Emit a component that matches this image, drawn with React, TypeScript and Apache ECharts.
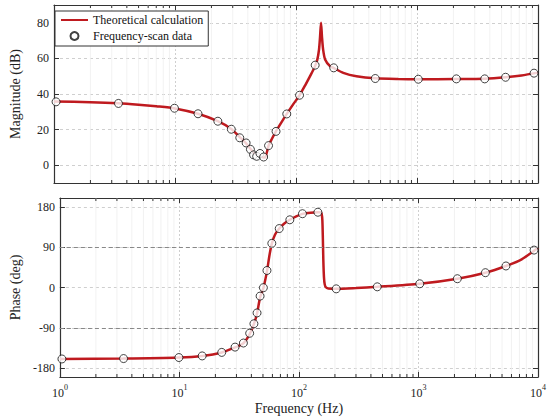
import React, { useEffect, useRef } from "react";
import * as echarts from "echarts";

const FONT = "'Liberation Serif', 'Times New Roman', serif";

// Frequency-scan data (Hz)
const scanFreq = [1.04, 3.41, 9.9, 15.5, 22.6, 29.2, 34.3, 38.7, 42, 44.6, 47.3, 50.4, 54, 59.3, 68.4, 83.9, 107, 144, 205, 452, 1025, 2115, 3630, 5395, 9270];
const scanMag = [35.6, 34.7, 32.0, 28.9, 24.7, 20.2, 15.4, 12.5, 8.9, 5.8, 5.0, 6.6, 4.6, 11.0, 19.0, 28.8, 39.3, 56.2, 54.7, 48.7, 48.3, 48.5, 48.5, 49.4, 51.7];
const scanPhase = [-159.7, -158.8, -156.5, -152.9, -145.0, -133.2, -124.1, -102.3, -81.0, -56.8, -19.2, -0.4, 38.0, 98.7, 131.7, 151.3, 164.9, 168.2, -3.0, 1.5, 8.3, 19.6, 33.1, 48.1, 83.6];

// Theoretical calculation curves [Hz, value]
const magCurve = [
  [1, 35.8], [2, 35.4], [3.4, 34.8], [5, 34.0], [7, 33.1], [10, 31.9], [15.5, 28.9], [22.6, 24.7],
  [29.2, 20.3], [34.3, 15.8], [38.7, 12.3], [42, 9.2], [45, 6.8], [48, 5.6], [51, 5.0], [53.5, 4.4],
  [55.5, 4.3], [57.3, 7.0], [59.3, 10.9], [63, 14.6], [68.4, 19.1], [76, 24.2], [83.9, 28.8], [95, 34.3],
  [107, 39.3], [120, 45.3], [133, 51.0], [144, 55.8], [150, 59.3], [155, 65.0], [158, 72.0], [161, 80.0],
  [164, 72.0], [167.5, 65.0], [174, 59.4], [191, 55.6], [205, 54.6], [246, 51.9], [316, 50.0], [452, 48.8],
  [700, 48.4], [1025, 48.3], [2115, 48.4], [3630, 48.6], [5395, 49.4], [7300, 50.4], [10000, 52.0]
];
const phaseCurve = [
  [1, -159.6], [3.4, -158.8], [10, -156.5], [15.5, -153.0], [22.6, -145.3], [29.2, -134.0], [34.3, -124.5],
  [38.7, -104.0], [42, -81.5], [44.6, -58.0], [47.3, -22.0], [50.4, -1.0], [54, 36.0], [56.5, 70.0],
  [59.3, 98.0], [63, 118.0], [68.4, 131.7], [75, 142.5], [83.9, 151.3], [95, 159.0], [107, 164.6],
  [125, 167.3], [144, 168.2], [152, 167.8], [155, 164.5], [157, 150.0], [158.5, 110.0], [160, 60.0],
  [162, 22.0], [164.3, 7.0], [168, 0.5], [176, -2.0], [205, -3.0], [300, -1.2], [452, 1.5], [1025, 8.3],
  [2115, 19.6], [3630, 33.1], [5395, 48.1], [7300, 63.0], [10000, 89.0]
];

const magTicks = [0, 20, 40, 60, 80];
const phaseTicks = [-180, -90, 0, 90, 180];
const phaseRefLines = [-90, 90];
const minorFreqs = [
  2, 3, 4, 5, 6, 7, 8, 9,
  20, 30, 40, 50, 60, 70, 80, 90,
  200, 300, 400, 500, 600, 700, 800, 900,
  2000, 3000, 4000, 5000, 6000, 7000, 8000, 9000
];

const LINE_COLOR = "#bf1a1f";
const AXIS_COLOR = "#333";

function App() {
  const ref = useRef<HTMLDivElement>(null);
  useEffect(() => {
    document.body.style.margin = "0";
    if (!ref.current) return;
    const chart = echarts.init(ref.current, undefined, { renderer: "svg" });

    const minorSeries = (gi: number) => ({
      type: "custom",
      name: "minor" + gi,
      xAxisIndex: gi * 2,
      yAxisIndex: gi * 2,
      silent: true,
      z: 1,
      data: minorFreqs.map((f) => [f, 0]),
      renderItem: (params: any, api: any) => {
        const x = api.coord([api.value(0), 0])[0];
        const cs = params.coordSys;
        return {
          type: "group",
          children: [
            { type: "line", shape: { x1: x, y1: cs.y, x2: x, y2: cs.y + cs.height }, style: { stroke: "#efefef", lineWidth: 0.8 } },
            { type: "line", shape: { x1: x, y1: cs.y + cs.height, x2: x, y2: cs.y + cs.height - 3 }, style: { stroke: AXIS_COLOR, lineWidth: 1 } },
            { type: "line", shape: { x1: x, y1: cs.y, x2: x, y2: cs.y + 3 }, style: { stroke: AXIS_COLOR, lineWidth: 1 } },
          ],
        };
      },
    });

    const xBase = (gi: number, pos: "bottom" | "top", main: boolean, labels: boolean) => ({
      type: "log",
      logBase: 10,
      gridIndex: gi,
      position: pos,
      min: 1,
      max: 10000,
      axisLine: { show: true, onZero: false, lineStyle: { color: AXIS_COLOR, width: 1.2 } },
      axisTick: { show: true, inside: true, length: 5, lineStyle: { color: AXIS_COLOR, width: 1 } },
      axisLabel: labels
        ? {
            show: true,
            margin: 6,
            formatter: (v: number) => "{b|10}{s|" + Math.round(Math.log10(v)) + "}",
            rich: {
              b: { fontSize: 12, fontFamily: FONT, color: "#222", lineHeight: 16, verticalAlign: "bottom" },
              s: { fontSize: 8, fontFamily: FONT, color: "#222", lineHeight: 16, verticalAlign: "top" },
            },
          }
        : { show: false },
      splitLine: main ? { show: true, lineStyle: { color: "#cfcfcf", type: [2, 2], width: 1 } } : { show: false },
      ...(labels
        ? {
            name: "Frequency (Hz)",
            nameLocation: "middle",
            nameGap: 24,
            nameTextStyle: { fontSize: 14, fontFamily: FONT, color: "#222" },
          }
        : {}),
    });

    const yBase = (gi: number, pos: "left" | "right", main: boolean, min: number, max: number, ticks: number[], name?: string) => ({
      type: "value",
      gridIndex: gi,
      position: pos,
      min,
      max,
      axisLine: { show: true, onZero: false, lineStyle: { color: AXIS_COLOR, width: 1.2 } },
      axisTick: { show: true, inside: true, length: 5, customValues: ticks, lineStyle: { color: AXIS_COLOR, width: 1 } },
      axisLabel: main
        ? { show: true, customValues: ticks, margin: 5, fontSize: 12, fontFamily: FONT, color: "#222" }
        : { show: false },
      splitLine: main ? { show: true, lineStyle: { color: "#cfcfcf", type: [3, 3], width: 1 } } : { show: false },
      ...(name
        ? {
            name,
            nameLocation: "middle",
            nameGap: 32,
            nameTextStyle: { fontSize: 14, fontFamily: FONT, color: "#222" },
          }
        : {}),
    });

    const option: any = {
      animation: false,
      backgroundColor: "#fff",
      textStyle: { fontFamily: FONT },
      grid: [
        { left: 50, top: 5, width: 488, height: 178 },
        { left: 50, top: 198, width: 488, height: 179 },
      ],
      legend: {
        left: 55,
        top: 11,
        orient: "vertical",
        data: [
          { name: "Theoretical calculation", itemStyle: { opacity: 0 } },
          { name: "Frequency-scan data" },
        ],
        backgroundColor: "#fff",
        borderColor: "#333",
        borderWidth: 1,
        borderRadius: 0,
        padding: [3, 5, 4, 5],
        itemGap: 4,
        itemWidth: 27,
        itemHeight: 8,
        textStyle: { fontSize: 12, fontFamily: FONT, color: "#111" },
      },
      xAxis: [
        xBase(0, "bottom", true, false),
        xBase(0, "top", false, false),
        xBase(1, "bottom", true, true),
        xBase(1, "top", false, false),
      ],
      yAxis: [
        yBase(0, "left", true, -10, 90, magTicks, "Magnitude (dB)"),
        yBase(0, "right", false, -10, 90, magTicks),
        yBase(1, "left", true, -200, 200, phaseTicks, "Phase (deg)"),
        yBase(1, "right", false, -200, 200, phaseTicks),
      ],
      series: [
        minorSeries(0),
        minorSeries(1),
        {
          type: "line",
          name: "Theoretical calculation",
          xAxisIndex: 0,
          yAxisIndex: 0,
          data: magCurve,
          symbol: "none",
          smooth: 0.25,
          z: 3,
          lineStyle: { color: LINE_COLOR, width: 2.5 },
          itemStyle: { color: LINE_COLOR },
        },
        {
          type: "scatter",
          name: "Frequency-scan data",
          xAxisIndex: 0,
          yAxisIndex: 0,
          data: scanFreq.map((f, i) => [f, scanMag[i]]),
          symbol: "circle",
          symbolSize: 8,
          z: 4,
          itemStyle: { color: "#fff", borderColor: "#111", borderWidth: 1 },
        },
        {
          type: "line",
          name: "phase-theory",
          xAxisIndex: 2,
          yAxisIndex: 2,
          data: phaseCurve,
          symbol: "none",
          smooth: 0.25,
          z: 3,
          lineStyle: { color: LINE_COLOR, width: 2.5 },
          markLine: {
            silent: true,
            symbol: "none",
            label: { show: false },
            lineStyle: { color: "#888", type: [4, 3], width: 1 },
            data: phaseRefLines.map((v) => ({ yAxis: v })),
          },
        },
        {
          type: "scatter",
          name: "phase-scan",
          xAxisIndex: 2,
          yAxisIndex: 2,
          data: scanFreq.map((f, i) => [f, scanPhase[i]]),
          symbol: "circle",
          symbolSize: 8,
          z: 4,
          itemStyle: { color: "#fff", borderColor: "#111", borderWidth: 1 },
        },
      ],
    };
    chart.setOption(option);
    return () => chart.dispose();
  }, []);
  return <div ref={ref} style={{ width: 550, height: 418 }} />;
}

export default App;
